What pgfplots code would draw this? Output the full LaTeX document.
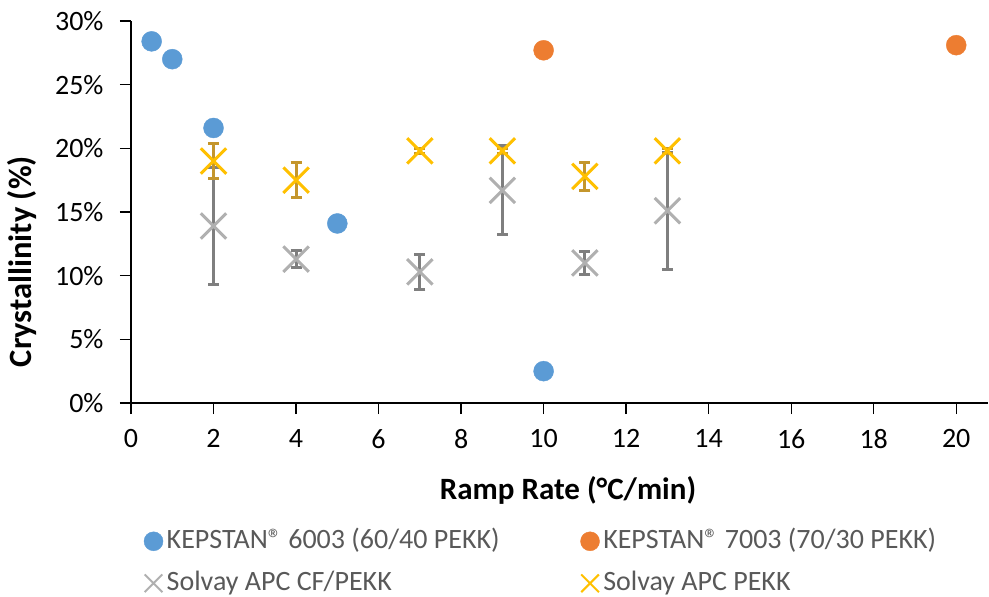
\documentclass[border=0pt]{standalone}
\usepackage{pgfplots}
\pgfplotsset{compat=1.18}
\usepackage{fontspec}
\setmainfont{Carlito}
\definecolor{cblue}{HTML}{5B9BD5}
\definecolor{corange}{HTML}{ED7D31}
\definecolor{cgray}{HTML}{B0B0B0}
\definecolor{cgraybar}{HTML}{7F7F7F}
\definecolor{cyellow}{HTML}{FFC000}
\definecolor{cyellowbar}{HTML}{C4962C}
\definecolor{ctext}{HTML}{595959}
\begin{document}
\begin{tikzpicture}
\useasboundingbox (0,0) rectangle (989bp,597bp);
\begin{axis}[
  at={(131bp,194bp)}, anchor=south west,
  scale only axis, width=857bp, height=382bp,
  xmin=0, xmax=20.77, ymin=0, ymax=30,
  axis x line*=bottom, axis y line*=left,
  axis line style={line width=1.3bp, black},
  xtick={0,2,...,20}, ytick={0,5,...,30},
  yticklabel={\pgfmathprintnumber{\tick}\%},
  /pgf/number format/assume math mode=true,
  tick align=outside, major tick length=11bp,
  tick style={line width=1.3bp, black},
  ticklabel style={font=\fontsize{28bp}{33bp}\selectfont, black},
  xticklabel style={yshift=-12bp},
  yticklabel style={xshift=-13bp},
  xlabel={Ramp Rate (°C/min)},
  ylabel={Crystallinity (\%)},
  label style={font=\fontsize{31bp}{36bp}\selectfont\bfseries},
  xlabel style={at={(axis description cs:0.51,0)}, anchor=north, yshift=-70bp},
  ylabel style={at={(axis description cs:-0.106,0.37)}, anchor=south, font=\fontsize{32.5bp}{38bp}\selectfont\bfseries},
  legend columns=2,
  legend cell align=left,
  legend style={at={(axis description cs:0.0152,-0.3254)}, anchor=north west,
    draw=none, fill=none, inner sep=0pt, outer sep=0pt,
    font=\fontsize{28bp}{33bp}\selectfont, text=ctext,
    nodes={inner sep=1bp, text height=20bp, text depth=6bp},
    row sep=14bp},
  /tikz/every odd column/.append style={column sep=2.7bp},
  /tikz/every even column/.append style={column sep=80bp},
  legend image code/.code={\draw[#1] plot coordinates {(10bp,0bp)};},
]
\addplot[only marks, mark=*, mark size=10bp, color=cblue, mark options={draw=none, fill=cblue}, legend image post style={mark size=9.5bp}]
  coordinates {(0.5,28.4) (1,27.0) (2,21.6) (5,14.1) (10,2.5)};
\addlegendentry{KEPSTAN® 6003 (60/40 PEKK)}
\addplot[only marks, mark=*, mark size=10bp, color=corange, mark options={draw=none, fill=corange}, legend image post style={mark size=9.5bp}]
  coordinates {(10,27.7) (20,28.1)};
\addlegendentry{KEPSTAN® 7003 (70/30 PEKK)}
\addplot[only marks, mark=x, mark size=18bp, color=cgray, line width=3bp,
  legend image post style={mark size=12.5bp, line width=2bp},
  error bars/.cd, y dir=both, y explicit,
  error bar style={line width=3bp, color=cgraybar},
  error mark options={line width=3bp, color=cgraybar, mark size=5.5bp, rotate=90}]
  coordinates {
  (2,13.9) +- (0,4.6)
  (4,11.3) +- (0,0.65)
  (7,10.3) +- (0,1.4)
  (9,16.7) +- (0,3.5)
  (11,11.0) +- (0,0.9)
  (13,15.1) +- (0,4.6)};
\addlegendentry{Solvay APC CF/PEKK}
\addplot[only marks, mark=x, mark size=18bp, color=cyellow, line width=3bp,
  legend image post style={mark size=12.5bp, line width=2bp},
  error bars/.cd, y dir=both, y explicit,
  error bar style={line width=3bp, color=cyellowbar},
  error mark options={line width=3bp, color=cyellowbar, mark size=5.5bp, rotate=90}]
  coordinates {
  (2,19.0) +- (0,1.4)
  (4,17.5) +- (0,1.35)
  (7,19.8) +- (0,0.2)
  (9,19.8) +- (0,0.2)
  (11,17.8) +- (0,1.1)
  (13,19.8) +- (0,0.2)};
\addlegendentry{Solvay APC PEKK}
\end{axis}
\end{tikzpicture}
\end{document}
